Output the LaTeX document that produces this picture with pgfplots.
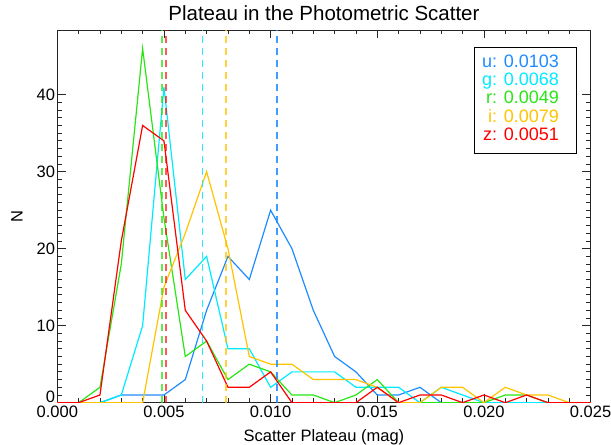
\documentclass[border=0pt]{standalone}
\usepackage{fontspec}
\setmainfont{Liberation Sans}
\usepackage{pgfplots}
\usepackage{pgfplotstable}
\pgfplotsset{compat=1.18}
\definecolor{cu}{RGB}{30,140,255}
\definecolor{cg}{RGB}{0,235,255}
\definecolor{cr}{RGB}{40,230,20}
\definecolor{ci}{RGB}{255,195,0}
\definecolor{cz}{RGB}{255,0,0}
\pgfplotstableread{
x      u   g   r   i   z
0.000  0   0   0   0   0
0.001  0   0   0   0   0
0.002  0   0   2   0   1
0.003  1   1   18  0   21
0.004  1   10  46  0   36
0.005  1   41  24  15  34
0.006  3   16  6   22  12
0.007  12  19  8   30  8
0.008  19  7   3   20  2
0.009  16  7   5   6   2
0.010  25  2   4   5   4
0.011  20  4   1   5   0
0.012  12  4   1   3   0
0.013  6   4   0   3   0
0.014  4   2   1   3   0
0.015  1   2   3   2   2
0.016  1   2   0   0   0
0.017  2   0   0   0   1
0.018  0   2   0   2   1
0.019  0   1   0   2   0
0.020  0   0   0   0   1
0.021  0   0   1   2   0
0.022  0   0   1   1   1
0.023  0   0   0   1   0
0.024  0   0   0   0   0
0.025  0   0   0   0   0
}\hist
\begin{document}
\begin{tikzpicture}
\begin{axis}[
  scale only axis,
  width=533.3pt, height=372.7pt,
  xmin=0, xmax=0.025, ymin=0, ymax=48.4,
  xtick={0,0.005,0.01,0.015,0.02,0.025},
  xticklabels={0.000,0.005,0.010,0.015,0.020,0.025},
  ytick={0,10,20,30,40},
  yticklabels={\raisebox{0pt}[0pt][0pt]{0},10,20,30,40},
  scaled x ticks=false,
  minor x tick num=4, minor y tick num=9,
  major tick length=8.5pt, minor tick length=4.5pt,
  tick style={black!85, line width=0.8pt},
  axis line style={black!85, line width=0.9pt},
  /pgf/number format/assume math mode=true,
  tick label style={font=\fontsize{16.5}{19}\selectfont},
  xticklabel style={anchor=base, yshift=-14.8pt},
  yticklabel style={inner xsep=2pt},
  title={Plateau in the Photometric Scatter},
  title style={font=\fontsize{20.5}{24}\selectfont, at={(axis description cs:0.5,1.0255)}, anchor=base, yshift=-6pt},
  xlabel={Scatter Plateau (mag)},
  xlabel style={font=\fontsize{16.5}{19}\selectfont, at={(axis description cs:0.5,-0.1033)}, anchor=base},
  ylabel={N},
  ylabel style={font=\fontsize{16.5}{19}\selectfont, at={(axis description cs:-0.0756,0.5)}, anchor=center},
]
\addplot[cu, line width=1.2pt] table[x=x,y=u]{\hist};
\addplot[cg, line width=1.2pt] table[x=x,y=g]{\hist};
\addplot[cr, line width=1.2pt] table[x=x,y=r]{\hist};
\addplot[ci, line width=1.2pt] table[x=x,y=i]{\hist};
\addplot[cz, line width=1.2pt] table[x=x,y=z]{\hist};
\addplot[cu, line width=1.4pt, dash pattern=on 7pt off 5pt, opacity=0.85] coordinates {(0.0103,0) (0.0103,48.4)};
\addplot[cg, line width=1.4pt, dash pattern=on 7pt off 5pt, opacity=0.85] coordinates {(0.0068,0) (0.0068,48.4)};
\addplot[cr, line width=1.4pt, dash pattern=on 7pt off 5pt, opacity=0.75] coordinates {(0.0049,0) (0.0049,48.4)};
\addplot[ci, line width=1.4pt, dash pattern=on 7pt off 5pt, opacity=0.75] coordinates {(0.0079,0) (0.0079,48.4)};
\addplot[cz, line width=1.4pt, dash pattern=on 7pt off 5pt, opacity=0.65] coordinates {(0.0051,0) (0.0051,48.4)};
\node[draw=black, line width=0.9pt, fill=white, anchor=north east, inner sep=0pt,
      minimum width=102pt, minimum height=105.5pt, font=\fontsize{18}{18.3}\selectfont]
  at (rel axis cs:0.9745,0.954)
  {\begin{tabular}{@{}r@{\hspace{10pt}}}
   \textcolor{cu}{u: 0.0103}\\
   \textcolor{cg}{g: 0.0068}\\
   \textcolor{cr}{r: 0.0049}\\
   \textcolor{ci}{i: 0.0079}\\
   \textcolor{cz}{z: 0.0051}
   \end{tabular}};
\coordinate (SW) at (rel axis cs:0,0);
\coordinate (NE) at (rel axis cs:1,1);
\end{axis}
\pgfresetboundingbox
\path[use as bounding box] ([xshift=-57.3pt,yshift=-42.3pt]SW) rectangle ([xshift=20.4pt,yshift=30pt]NE);
\end{tikzpicture}
\end{document}
